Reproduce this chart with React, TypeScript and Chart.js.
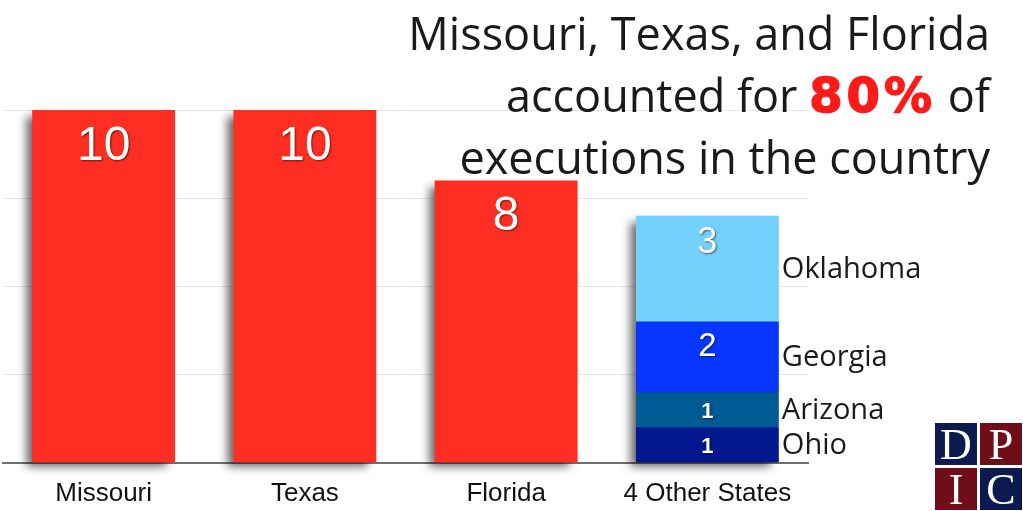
import React, { useEffect, useRef } from "react";
import { Chart, registerables } from "chart.js";

Chart.register(...registerables);

const categories = ["Missouri", "Texas", "Florida", "4 Other States"];
const leadingStates = [10, 10, 8, null];
const ohio = [null, null, null, 1];
const arizona = [null, null, null, 1];
const georgia = [null, null, null, 2];
const oklahoma = [null, null, null, 3];
const otherStateNames = ["Ohio", "Arizona", "Georgia", "Oklahoma"];
const yMax = 10;
const yStep = 2.5;

const valueFontSizes = [48, 22, 22, 33, 36];

const barShadowPlugin = {
  id: "barShadow",
  beforeDatasetsDraw(chart: any) {
    const ctx = chart.ctx;
    const n = chart.data.labels.length;
    for (let i = 0; i < n; i++) {
      let top = Infinity;
      let base = -Infinity;
      let x = 0;
      let w = 0;
      let color = "#888";
      chart.data.datasets.forEach((ds: any, di: number) => {
        const v = ds.data[i];
        if (v === null || v === undefined) return;
        const el: any = chart.getDatasetMeta(di).data[i];
        const t = Math.min(el.y, el.base);
        const b = Math.max(el.y, el.base);
        if (t < top) top = t;
        if (b > base) {
          base = b;
          color = ds.backgroundColor;
        }
        x = el.x;
        w = el.width;
      });
      if (!isFinite(top)) continue;
      ctx.save();
      ctx.shadowColor = "rgba(0,0,0,0.6)";
      ctx.shadowBlur = 9;
      ctx.shadowOffsetX = -7;
      ctx.shadowOffsetY = 5;
      ctx.fillStyle = color;
      ctx.fillRect(x - w / 2 + 1, top + 1, w - 2, base - top - 1);
      ctx.restore();
    }
  },
};

const labelsPlugin = {
  id: "valueLabels",
  afterDatasetsDraw(chart: any) {
    const ctx = chart.ctx;
    chart.data.datasets.forEach((ds: any, di: number) => {
      const meta = chart.getDatasetMeta(di);
      meta.data.forEach((el: any, i: number) => {
        const v = ds.data[i];
        if (v === null || v === undefined) return;
        const top = Math.min(el.y, el.base);
        const bottom = Math.max(el.y, el.base);
        const h = bottom - top;
        const fs = valueFontSizes[di];
        const yPos = h > 60 ? top + fs * 0.76 : (top + bottom) / 2 + 2;
        ctx.save();
        ctx.font = `${fs < 30 ? "bold " : ""}${fs}px "Liberation Sans", Arial, sans-serif`;
        ctx.textAlign = "center";
        ctx.textBaseline = "middle";
        ctx.shadowColor = "rgba(0,0,0,0.55)";
        ctx.shadowBlur = 2;
        ctx.shadowOffsetX = 1;
        ctx.shadowOffsetY = 1;
        ctx.fillStyle = "#ffffff";
        ctx.fillText(String(v), el.x, yPos);
        ctx.restore();
        if (di > 0) {
          ctx.save();
          ctx.font = `29px "Open Sans", sans-serif`;
          ctx.textAlign = "left";
          ctx.textBaseline = "middle";
          ctx.fillStyle = "#1a1a1a";
          ctx.fillText(ds.label, el.x + el.width / 2 + 3, (top + bottom) / 2 + 1);
          ctx.restore();
        }
      });
    });
  },
};

export default function App() {
  const canvasRef = useRef<HTMLCanvasElement | null>(null);

  useEffect(() => {
    if (!canvasRef.current) return;
    const chart = new Chart(canvasRef.current, {
      type: "bar",
      data: {
        labels: categories,
        datasets: [
          { label: "Executions", data: leadingStates, backgroundColor: "#ff2e22" },
          { label: otherStateNames[0], data: ohio, backgroundColor: "#03188e" },
          { label: otherStateNames[1], data: arizona, backgroundColor: "#005a94" },
          { label: otherStateNames[2], data: georgia, backgroundColor: "#0636ff" },
          { label: otherStateNames[3], data: oklahoma, backgroundColor: "#74d0fd" },
        ] as any,
      },
      options: {
        responsive: false,
        animation: false,
        layout: { padding: { left: 3, right: 215, top: 110, bottom: 3 } },
        plugins: {
          legend: { display: false },
          tooltip: { enabled: false },
          title: { display: false },
        },
        datasets: {
          bar: { categoryPercentage: 1, barPercentage: 0.71 },
        } as any,
        scales: {
          x: {
            stacked: true,
            z: 1,
            grid: { display: false, drawTicks: false },
            border: { display: true, color: "#707070", width: 2 },
            ticks: {
              color: "#111111",
              padding: 15,
              font: { family: '"Liberation Sans", Arial, sans-serif', size: 26 },
            },
          },
          y: {
            stacked: true,
            min: 0,
            max: yMax,
            ticks: { display: false, stepSize: yStep },
            grid: { color: "#e6e6e6", lineWidth: 1, drawTicks: false },
            border: { display: false },
          },
        },
      },
      plugins: [barShadowPlugin, labelsPlugin],
    });
    return () => chart.destroy();
  }, []);

  const sq: React.CSSProperties = {
    position: "absolute",
    width: 42,
    height: 42,
    color: "#ffffff",
    fontFamily: '"Liberation Serif", "DejaVu Serif", serif',
    fontSize: 44,
    lineHeight: "44px",
    textAlign: "center",
  };

  return (
    <div style={{ position: "fixed", left: 0, top: 0, width: 1023, height: 511, background: "#ffffff", overflow: "hidden" }}>
      <canvas ref={canvasRef} width={1023} height={527} style={{ position: "absolute", left: 0, top: 0, width: 1023, height: 527 }} />
      <div
        style={{
          position: "absolute",
          right: 33,
          top: 2,
          textAlign: "right",
          fontFamily: '"Open Sans", sans-serif',
          fontSize: 45,
          lineHeight: "62px",
          color: "#1a1a1a",
          whiteSpace: "nowrap",
        }}
      >
        <div>Missouri, Texas, and Florida</div>
        <div>
          accounted for{" "}
          <span
            style={{
              color: "#ff1a1a",
              fontFamily: '"DejaVu Sans", sans-serif',
              fontWeight: 900,
              fontSize: 48,
              letterSpacing: 4,
              WebkitTextStroke: "1.5px #ff1a1a",
            }}
          >
            80%
          </span>{" "}
          of
        </div>
        <div>executions in the country</div>
      </div>
      <div style={{ position: "absolute", left: 935, top: 423, width: 88, height: 88, background: "#ffffff" }}>
        <div style={{ ...sq, left: 0, top: 0, background: "#0d1a4f" }}>D</div>
        <div style={{ ...sq, left: 45, top: 0, background: "#6f0d18" }}>P</div>
        <div style={{ ...sq, left: 0, top: 45, background: "#6f0d18" }}>I</div>
        <div style={{ ...sq, left: 45, top: 45, background: "#0d1a4f" }}>C</div>
      </div>
    </div>
  );
}
